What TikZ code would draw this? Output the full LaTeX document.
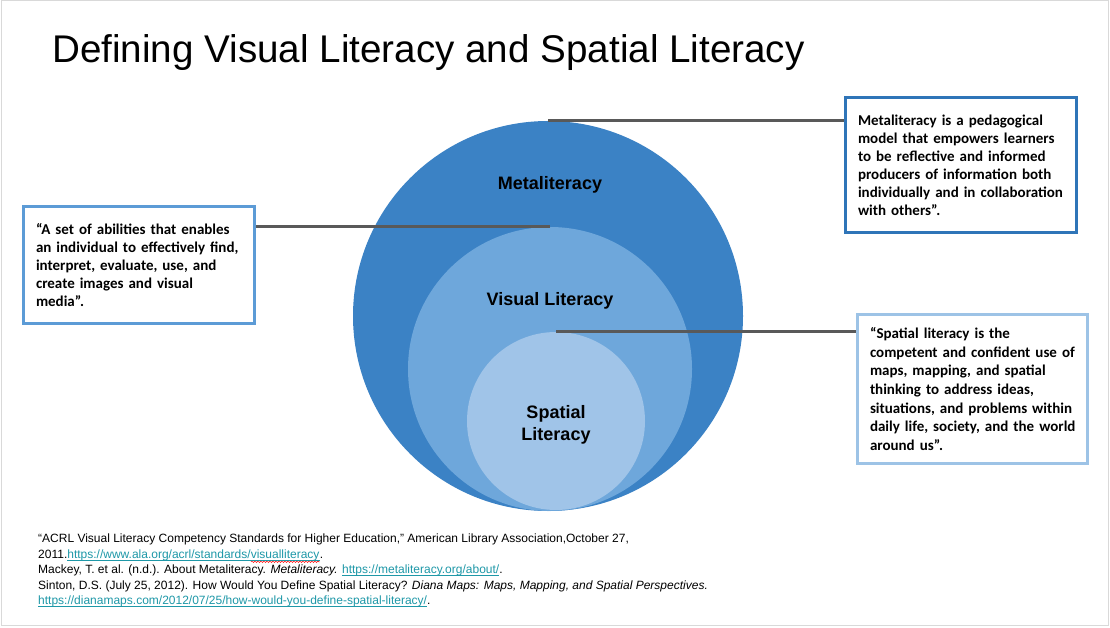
\documentclass[tikz,border=0pt]{standalone}
\usepackage{fontspec}
\setmainfont{Liberation Sans}
\newfontfamily\boxfont{Carlito}
\usetikzlibrary{decorations.pathmorphing}
\definecolor{cmeta}{HTML}{3B82C5}
\definecolor{cvis}{HTML}{6EA7DB}
\definecolor{cspat}{HTML}{A0C4E8}
\definecolor{bmeta}{HTML}{2F75B8}
\definecolor{bvis}{HTML}{5C9BD6}
\definecolor{bspat}{HTML}{9DC3E6}
\definecolor{conn}{HTML}{595959}
\definecolor{linkc}{HTML}{1E98A8}
\definecolor{slideb}{HTML}{D9D9D9}
\newsavebox\wavybox
\newsavebox\lnkbox
\newcommand\wavyul[1]{\sbox\wavybox{#1}\rlap{\usebox\wavybox}\raisebox{-3.4pt}{\tikz[baseline=0pt]\draw[red, line width=0.5pt, decorate, decoration={snake, amplitude=0.7pt, segment length=3pt}] (0pt,0pt) -- (\wd\wavybox,0pt);}}
\newcommand\lnk[1]{{\color{linkc}\sbox\lnkbox{#1}\rlap{\usebox\lnkbox}\rule[-1.8pt]{\wd\lnkbox}{0.7pt}}}
\newcommand\bline[1]{\mbox{#1}}
\tikzset{
  ring/.style={circle, inner sep=0pt, draw=none},
  ringlabel/.style={font=\fontsize{18}{22}\selectfont\bfseries, align=center, inner sep=0pt},
  defbox/.style={draw, line width=3pt, fill=white, inner xsep=13pt, inner ysep=0pt, align=left,
    font=\boxfont\bfseries\fontsize{15}{18}\selectfont},
  connector/.style={draw=conn, line width=3pt},
}
\begin{document}
\begin{tikzpicture}[x=1pt,y=-1pt]
\useasboundingbox (0,0) rectangle (1110,628);
\fill[white] (0,0) rectangle (1110,628);
\draw[slideb, line width=1pt] (1,1) rectangle (1108,625);

\node[anchor=base west, inner sep=0pt, font=\fontsize{38.6}{42}\selectfont] (title) at (52,63) {Defining Visual Literacy and Spatial Literacy};

\node[ring, fill=cmeta, minimum size=390pt] (meta) at (548,316) {};
\node[ring, fill=cvis, minimum size=284pt] (vis) at (550,369) {};
\node[ring, fill=cspat, minimum size=178pt] (spat) at (556,421) {};

\node[ringlabel] (metal) at (550,185) {Metaliteracy};
\node[ringlabel] (visl) at (550,301) {Visual Literacy};
\node[ringlabel] (spatl) at (556,425) {Spatial\\Literacy};

\node[defbox, draw=bmeta, minimum width=231pt, minimum height=135pt, text width=205pt] (box1) at (960.5,165.5)
 {\bline{Metaliteracy is a pedagogical}\\\bline{model that empowers learners}\\\bline{to be reflective and informed}\\\bline{producers of information both}\\\bline{individually and in collaboration}\\\bline{with others”.}};
\node[defbox, draw=bvis, minimum width=231pt, minimum height=116pt, text width=205pt] (box2) at (138.5,265)
 {\bline{“A set of abilities that enables}\\\bline{an individual to effectively find,}\\\bline{interpret, evaluate, use, and}\\\bline{create images and visual}\\\bline{media”.}};
\node[defbox, draw=bspat, minimum width=230pt, minimum height=149pt, text width=204pt,
  font=\boxfont\bfseries\fontsize{15}{18.6}\selectfont] (box3) at (972,389)
 {\bline{“Spatial literacy is the}\\\bline{competent and confident use of}\\\bline{maps, mapping, and spatial}\\\bline{thinking to address ideas,}\\\bline{situations, and problems within}\\\bline{daily life, society, and the world}\\\bline{around us”.}};

\draw[connector] (meta.north) -- (meta.north -| box1.west);
\draw[connector] (vis.north) -- (vis.north -| box2.east);
\draw[connector] (spat.north) -- (spat.north -| box3.west);

\node[anchor=north west, inner sep=0pt, align=left, font=\fontsize{12}{15.5}\selectfont] (refs) at (38,534)
 {“ACRL Visual Literacy Competency Standards for Higher Education,” American Library Association,October 27,\\
 2011.\lnk{https://www.ala.org/acrl/standards/\wavyul{visualliteracy}}.\\
 Mackey, T. et al. (n.d.). About Metaliteracy. \textit{Metaliteracy.} \lnk{https://metaliteracy.org/about/}.\\
 Sinton, D.S. (July 25, 2012). How Would You Define Spatial Literacy? \textit{Diana Maps: Maps, Mapping, and Spatial Perspectives.}\\
 \lnk{https://dianamaps.com/2012/07/25/how-would-you-define-spatial-literacy/}.};
\end{tikzpicture}
\end{document}
